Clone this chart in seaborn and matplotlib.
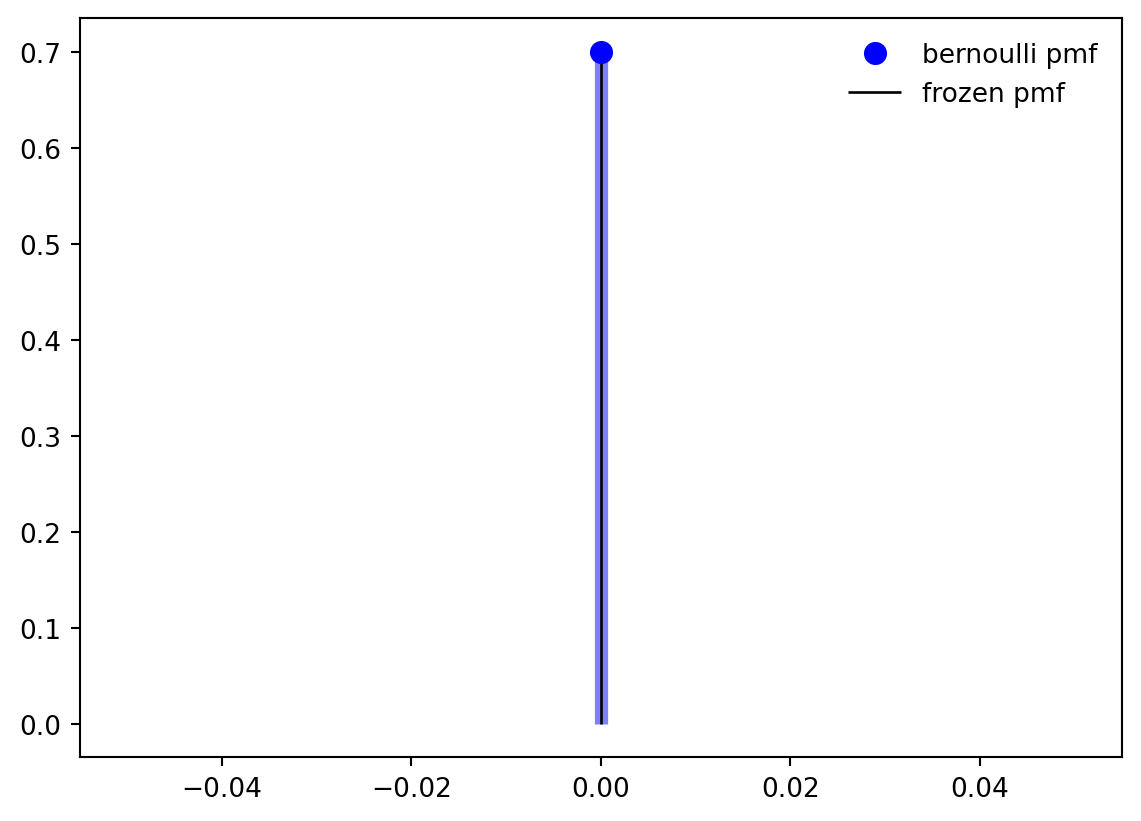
import numpy as np
import seaborn as sns
import matplotlib
matplotlib.use("Agg")
import matplotlib.pyplot as plt

# Werte aus dem Bild
x = [0.0]
pmf = [0.7]

DPI = 190
fig, ax = plt.subplots(figsize=(1141 / DPI, 822 / DPI), dpi=DPI)
fig.subplots_adjust(left=0.070, right=0.983, top=0.9765, bottom=0.0775)

sns.lineplot(x=x, y=pmf, color="b", marker="o", markersize=8, linestyle="",
             markeredgecolor="b", label="bernoulli pmf", ax=ax, zorder=3)
ax.vlines(x, 0, pmf, colors="b", lw=5, alpha=0.5)
ax.vlines(x, 0, pmf, colors="k", linestyles="-", lw=1, label="frozen pmf")

ax.set_xlim(-0.055, 0.055)
ax.set_ylim(-0.035, 0.735)
ax.set_xlabel("")
ax.set_ylabel("")
ax.legend(loc="best", frameon=False)

plt.savefig("out.png", dpi=DPI)
